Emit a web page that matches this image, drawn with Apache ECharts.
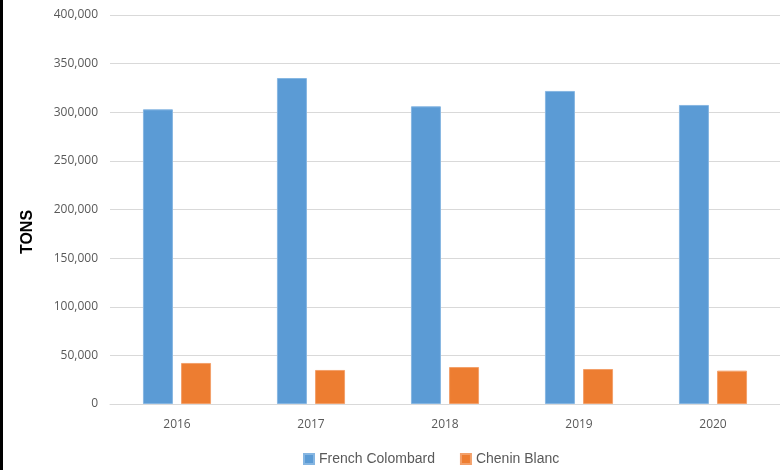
<!DOCTYPE html>
<html>
<head>
<meta charset="utf-8">
<script src="https://cdn.jsdelivr.net/npm/echarts@6/dist/echarts.min.js"></script>
<style>html,body{margin:0;padding:0;background:#fff}#c{width:780px;height:470px}</style>
</head>
<body>
<div id="c"></div>
<script>
var categories = ['2016', '2017', '2018', '2019', '2020'];
var frenchColombard = [303000, 335200, 306100, 321900, 307500];
var cheninBlanc = [42200, 35000, 38000, 36000, 34300];
var seriesNames = ['French Colombard', 'Chenin Blanc'];
var yAxisName = 'TONS';

var chart = echarts.init(document.getElementById('c'), null, {renderer: 'canvas'});
chart.setOption({
  animation: false,
  backgroundColor: '#ffffff',
  graphic: [{
    type: 'rect', left: 0, top: 0,
    shape: {x: 0, y: 0, width: 3, height: 470},
    style: {fill: '#000000'}
  }, {
    type: 'text', x: 28, y: 232, rotation: Math.PI / 2,
    style: {
      text: yAxisName, fill: '#000', font: 'bold 16px "Liberation Sans"',
      align: 'center', verticalAlign: 'middle'
    }
  }],
  grid: {left: 110, right: 0, top: 15, bottom: 66},
  legend: {
    top: 452, left: 303, padding: 0,
    itemWidth: 10, itemHeight: 10, itemGap: 25,
    icon: 'rect',
    textStyle: {color: '#595959', fontSize: 14, fontFamily: 'Liberation Sans'},
    data: seriesNames
  },
  xAxis: {
    type: 'category', data: categories,
    axisLine: {show: true, lineStyle: {color: '#d9d9d9'}},
    axisTick: {show: false},
    axisLabel: {color: '#595959', fontSize: 12, margin: 15, fontFamily: 'Open Sans'}
  },
  yAxis: {
    type: 'value', min: 0, max: 400000, interval: 50000,
    axisLine: {show: false}, axisTick: {show: false},
    splitLine: {lineStyle: {color: '#d9d9d9', width: 1}},
    axisLabel: {
      color: '#595959', fontSize: 12, margin: 12, fontFamily: 'Open Sans',
      formatter: function (v) { return v.toLocaleString('en-US'); }
    }
  },
  series: [
    {name: seriesNames[0], type: 'bar', data: frenchColombard, barWidth: 30, barGap: '27%',
     itemStyle: {color: '#5B9BD5', borderColor: '#86b6e2', borderWidth: 1}},
    {name: seriesNames[1], type: 'bar', data: cheninBlanc, barWidth: 30,
     itemStyle: {color: '#ED7D31', borderColor: '#f3a06a', borderWidth: 1}}
  ]
});
</script>
</body>
</html>
